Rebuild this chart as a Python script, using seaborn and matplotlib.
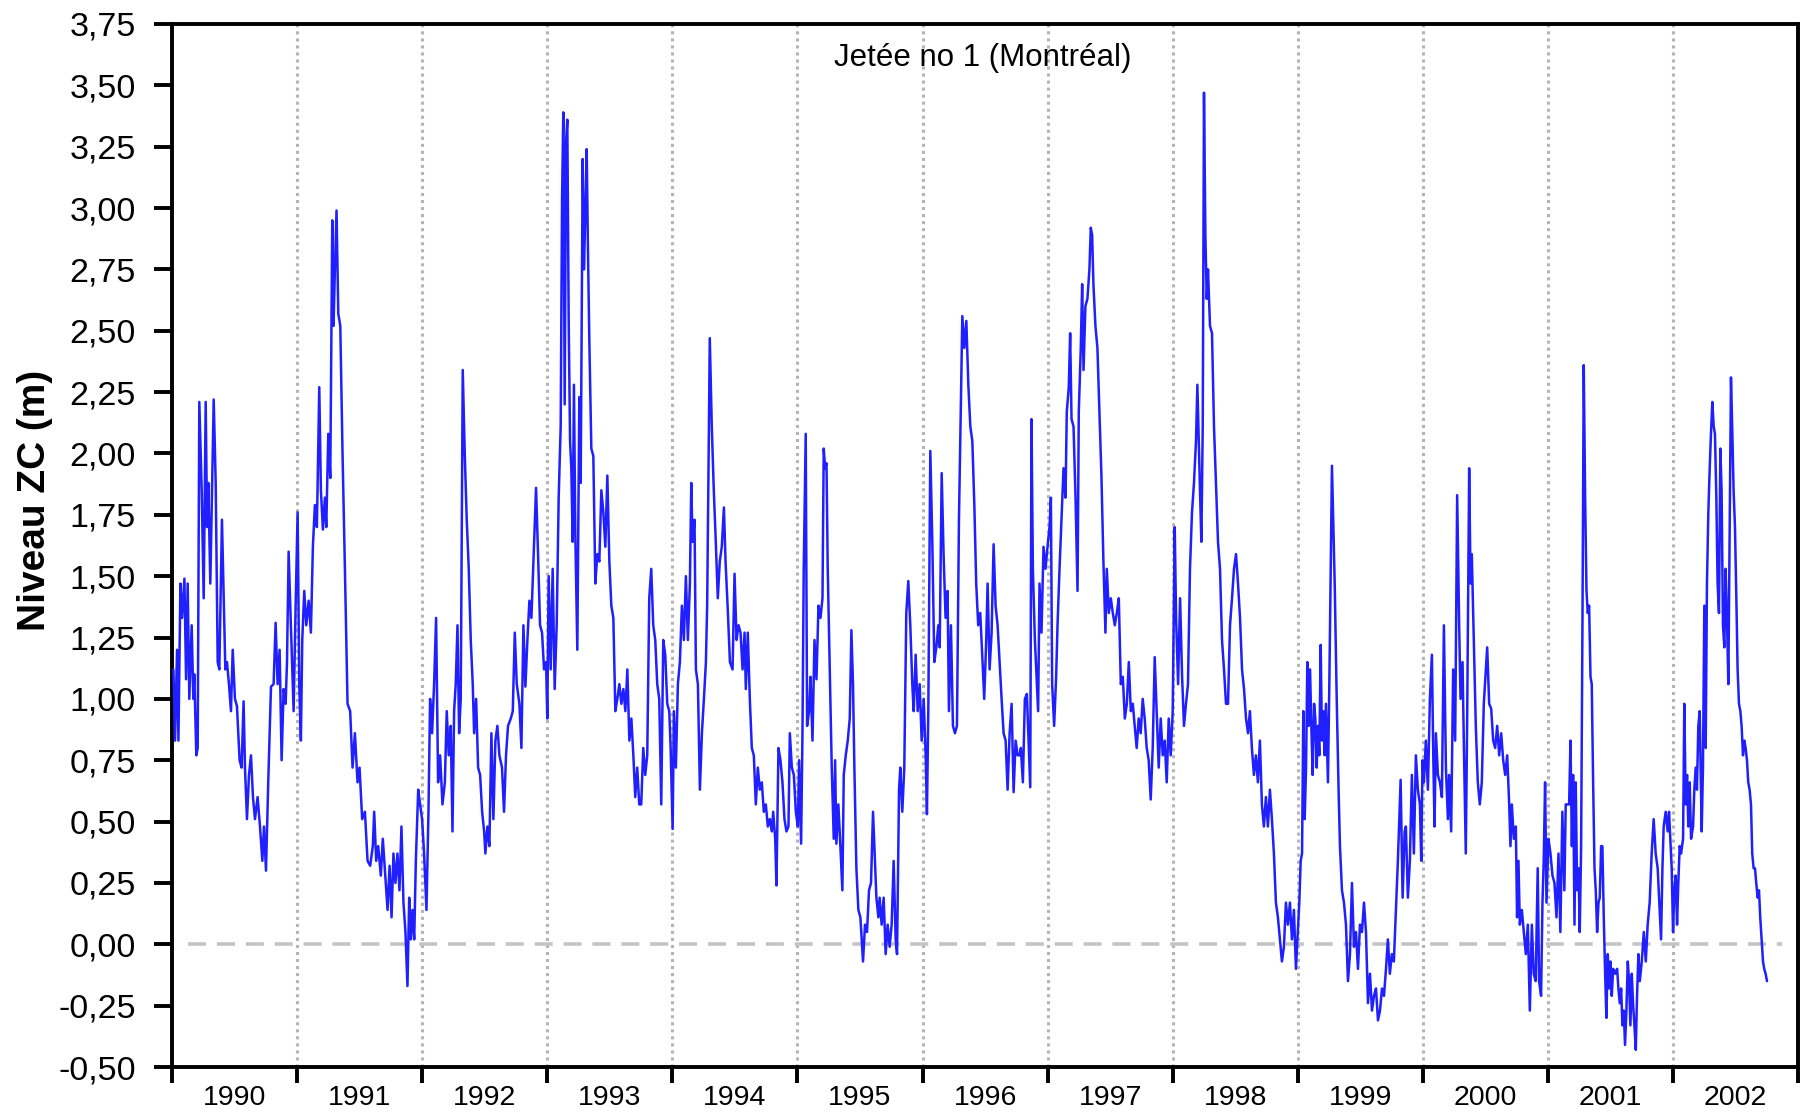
import numpy as np
import pandas as pd
import matplotlib
matplotlib.use("Agg")
import matplotlib.pyplot as plt
from matplotlib.ticker import FixedLocator, FuncFormatter, NullFormatter
import seaborn as sns

# ---- data: (fraction of year, water level in m) ----
lvl_1990 = [(0.011,1.12),(0.024,0.83),(0.040,1.20),(0.051,0.83),(0.067,1.47),(0.080,1.33),(0.099,1.49),(0.112,1.08),(0.125,1.47),(0.138,1.00),(0.157,1.30),(0.170,1.00),(0.178,1.10),(0.194,0.77),(0.205,0.80),(0.218,2.21),(0.237,1.85),(0.253,1.41),(0.269,2.21),(0.280,1.70),(0.290,1.88),(0.306,1.47),(0.319,1.82),(0.333,2.22),(0.349,1.88),(0.365,1.15),(0.378,1.12),(0.399,1.73),(0.413,1.41),(0.426,1.12),(0.439,1.15),(0.455,1.06),(0.471,0.95),(0.485,1.20),(0.503,1.00),(0.519,0.97),(0.540,0.75),(0.556,0.72),(0.572,0.99),(0.583,0.72),(0.599,0.51),(0.615,0.69),(0.631,0.77),(0.647,0.60),(0.663,0.51),(0.684,0.60),(0.703,0.48),(0.722,0.34),(0.735,0.48),(0.751,0.30),(0.769,0.66),(0.791,1.05),(0.812,1.06),(0.828,1.31),(0.844,1.06),(0.860,1.20),(0.876,0.75),(0.892,1.04),(0.908,0.98),(0.919,1.15),(0.932,1.60),(0.950,1.30),(0.972,0.95),(0.988,1.38)]
lvl_1991 = [(0.004,1.76),(0.017,1.06),(0.030,0.83),(0.041,1.24),(0.057,1.44),(0.073,1.30),(0.092,1.40),(0.110,1.27),(0.126,1.62),(0.142,1.79),(0.158,1.70),(0.177,2.27),(0.190,1.85),(0.206,1.69),(0.222,1.82),(0.233,1.70),(0.249,2.08),(0.265,1.90),(0.281,2.95),(0.291,2.52),(0.302,2.75),(0.315,2.99),(0.329,2.57),(0.345,2.52),(0.363,2.00),(0.382,1.53),(0.403,0.98),(0.424,0.95),(0.443,0.72),(0.462,0.86),(0.483,0.66),(0.499,0.72),(0.520,0.51),(0.542,0.54),(0.563,0.34),(0.584,0.32),(0.605,0.40),(0.616,0.54),(0.632,0.34),(0.648,0.40),(0.669,0.28),(0.685,0.43),(0.701,0.31),(0.723,0.14),(0.739,0.32),(0.755,0.11),(0.770,0.37),(0.786,0.25),(0.802,0.37),(0.818,0.22),(0.834,0.48),(0.850,0.17),(0.866,0.05),(0.882,-0.17),(0.896,0.19),(0.909,0.02),(0.922,0.14),(0.936,0.02),(0.949,0.34),(0.968,0.63),(0.983,0.57),(0.999,0.51)]
lvl_1992 = [(0.015,0.37),(0.034,0.14),(0.050,0.54),(0.063,1.00),(0.079,0.86),(0.095,1.06),(0.111,1.33),(0.127,0.66),(0.143,0.77),(0.162,0.57),(0.181,0.66),(0.196,0.95),(0.212,0.77),(0.228,0.89),(0.242,0.46),(0.255,0.95),(0.268,1.06),(0.282,1.30),(0.295,0.86),(0.308,1.00),(0.324,2.34),(0.340,2.00),(0.356,1.73),(0.372,1.53),(0.388,1.24),(0.404,1.06),(0.415,0.86),(0.431,1.00),(0.447,0.72),(0.463,0.69),(0.479,0.54),(0.495,0.46),(0.505,0.37),(0.521,0.48),(0.537,0.40),(0.553,0.86),(0.569,0.51),(0.585,0.83),(0.601,0.89),(0.617,0.77),(0.638,0.72),(0.654,0.54),(0.670,0.77),(0.686,0.89),(0.708,0.92),(0.724,0.95),(0.740,1.27),(0.756,1.06),(0.777,0.98),(0.793,0.80),(0.809,1.30),(0.825,1.05),(0.841,1.24),(0.857,1.40),(0.873,1.33),(0.889,1.56),(0.910,1.86),(0.926,1.59),(0.942,1.30),(0.958,1.27),(0.974,1.12),(0.990,1.15)]
lvl_1993 = [(0.000,0.92),(0.011,1.50),(0.027,1.12),(0.043,1.53),(0.059,1.04),(0.075,1.30),(0.091,1.82),(0.107,2.11),(0.118,3.04),(0.128,3.39),(0.139,2.20),(0.150,3.27),(0.160,3.36),(0.171,2.54),(0.182,2.05),(0.192,1.94),(0.203,1.64),(0.213,2.28),(0.224,1.67),(0.240,1.20),(0.256,2.23),(0.267,1.88),(0.283,3.20),(0.293,2.75),(0.304,2.98),(0.315,3.24),(0.325,2.83),(0.336,2.46),(0.352,2.02),(0.368,1.99),(0.384,1.47),(0.400,1.59),(0.416,1.56),(0.432,1.85),(0.448,1.76),(0.464,1.62),(0.480,1.91),(0.496,1.56),(0.512,1.38),(0.528,1.33),(0.544,0.95),(0.560,1.00),(0.576,1.06),(0.592,0.98),(0.608,1.04),(0.624,0.95),(0.640,1.12),(0.656,0.83),(0.672,0.92),(0.688,0.77),(0.703,0.60),(0.719,0.72),(0.735,0.57),(0.751,0.57),(0.767,0.80),(0.783,0.69),(0.799,0.77),(0.815,1.41),(0.831,1.53),(0.847,1.30),(0.863,1.24),(0.879,1.06),(0.895,1.00),(0.911,0.57),(0.927,1.24),(0.943,1.18),(0.959,0.98),(0.975,0.95),(0.986,0.80)]
lvl_1994 = [(0.002,0.47),(0.012,0.95),(0.028,0.72),(0.044,1.06),(0.060,1.15),(0.076,1.38),(0.092,1.24),(0.108,1.50),(0.124,1.24),(0.140,1.47),(0.151,1.88),(0.161,1.64),(0.177,1.73),(0.188,1.12),(0.204,1.06),(0.220,0.63),(0.236,0.86),(0.252,1.00),(0.268,1.15),(0.278,1.38),(0.289,1.96),(0.299,2.47),(0.315,2.11),(0.331,1.85),(0.347,1.64),(0.363,1.41),(0.379,1.56),(0.395,1.62),(0.412,1.78),(0.425,1.56),(0.444,1.35),(0.460,1.15),(0.481,1.12),(0.497,1.51),(0.513,1.24),(0.529,1.30),(0.545,1.27),(0.561,1.12),(0.577,1.27),(0.587,1.04),(0.603,1.27),(0.619,1.00),(0.635,0.80),(0.651,0.77),(0.667,0.57),(0.683,0.72),(0.699,0.63),(0.715,0.66),(0.731,0.54),(0.747,0.57),(0.763,0.48),(0.779,0.51),(0.795,0.46),(0.806,0.54),(0.822,0.43),(0.832,0.24),(0.848,0.80),(0.864,0.75),(0.880,0.66),(0.896,0.51),(0.912,0.46),(0.928,0.48),(0.939,0.86),(0.955,0.72),(0.971,0.69),(0.987,0.54)]
lvl_1995 = [(0.003,0.48),(0.013,0.75),(0.029,0.41),(0.040,0.86),(0.050,1.53),(0.066,2.08),(0.077,0.89),(0.093,0.95),(0.104,1.09),(0.120,0.83),(0.136,1.24),(0.152,1.08),(0.168,1.38),(0.184,1.33),(0.200,1.41),(0.210,2.02),(0.221,1.94),(0.232,1.96),(0.242,1.53),(0.258,1.12),(0.274,0.72),(0.290,0.43),(0.301,0.75),(0.311,0.41),(0.327,0.57),(0.343,0.40),(0.359,0.22),(0.370,0.69),(0.386,0.77),(0.402,0.83),(0.418,0.92),(0.431,1.28),(0.444,1.06),(0.455,0.72),(0.471,0.31),(0.487,0.14),(0.503,0.11),(0.524,-0.07),(0.540,0.08),(0.556,0.05),(0.572,0.22),(0.588,0.25),(0.604,0.54),(0.615,0.40),(0.631,0.19),(0.647,0.11),(0.657,0.19),(0.673,0.08),(0.689,0.19),(0.705,-0.04),(0.721,0.08),(0.737,-0.01),(0.753,0.08),(0.769,0.34),(0.785,0.02),(0.796,-0.04),(0.812,0.63),(0.822,0.72),(0.838,0.54),(0.854,0.72),(0.870,1.35),(0.886,1.48),(0.902,1.30),(0.918,1.06),(0.929,0.95),(0.945,1.18),(0.961,0.95),(0.977,1.06),(0.993,0.83)]
lvl_1996 = [(0.009,1.00),(0.025,0.77),(0.035,0.53),(0.046,0.95),(0.062,2.01),(0.078,1.64),(0.094,1.15),(0.110,1.21),(0.126,1.30),(0.137,1.21),(0.153,1.92),(0.168,1.59),(0.184,1.33),(0.200,1.44),(0.211,0.95),(0.227,1.30),(0.243,0.89),(0.259,0.86),(0.275,0.89),(0.291,1.73),(0.307,2.23),(0.318,2.56),(0.334,2.43),(0.350,2.54),(0.366,2.28),(0.382,2.11),(0.398,2.05),(0.414,1.79),(0.429,1.47),(0.445,1.30),(0.461,1.35),(0.477,1.18),(0.493,1.00),(0.509,1.24),(0.520,1.47),(0.536,1.12),(0.552,1.27),(0.568,1.63),(0.584,1.38),(0.600,1.30),(0.616,1.15),(0.632,1.00),(0.648,0.86),(0.664,0.83),(0.680,0.63),(0.696,0.86),(0.712,0.98),(0.728,0.62),(0.744,0.83),(0.760,0.77),(0.776,0.77),(0.786,0.80),(0.802,0.66),(0.818,1.00),(0.834,1.02),(0.850,0.80),(0.861,0.64),(0.871,2.14),(0.882,1.53),(0.898,1.24),(0.914,1.06),(0.924,0.95),(0.935,1.47),(0.951,1.27),(0.967,1.62),(0.983,1.53),(0.999,1.62)]
lvl_1997 = [(0.015,1.70),(0.026,1.82),(0.036,1.06),(0.052,0.89),(0.068,1.09),(0.079,1.30),(0.095,1.53),(0.111,1.73),(0.127,1.94),(0.143,1.82),(0.153,2.17),(0.169,2.27),(0.180,2.49),(0.191,2.14),(0.207,2.11),(0.223,1.82),(0.239,1.44),(0.249,2.17),(0.265,2.43),(0.276,2.69),(0.287,2.34),(0.302,2.60),(0.318,2.63),(0.334,2.75),(0.345,2.92),(0.356,2.89),(0.366,2.69),(0.382,2.52),(0.398,2.43),(0.414,2.17),(0.430,1.91),(0.446,1.56),(0.462,1.27),(0.473,1.53),(0.489,1.35),(0.505,1.41),(0.521,1.35),(0.537,1.30),(0.553,1.35),(0.569,1.41),(0.585,1.06),(0.601,1.09),(0.617,0.92),(0.633,0.98),(0.649,1.15),(0.665,0.95),(0.681,0.98),(0.696,0.89),(0.712,0.80),(0.728,0.92),(0.744,0.86),(0.760,1.00),(0.776,0.92),(0.792,0.80),(0.808,0.75),(0.824,0.59),(0.840,0.80),(0.856,1.17),(0.872,0.95),(0.888,0.72),(0.904,0.92),(0.920,0.77),(0.936,0.83),(0.952,0.66),(0.968,0.92),(0.984,0.77)]
lvl_1998 = [(0.000,0.95),(0.016,1.70),(0.027,1.33),(0.043,1.06),(0.059,1.41),(0.075,1.09),(0.090,0.89),(0.106,0.98),(0.122,1.06),(0.138,1.53),(0.154,1.76),(0.170,1.88),(0.186,2.05),(0.197,2.28),(0.208,2.05),(0.218,1.85),(0.229,1.64),(0.240,2.11),(0.250,3.47),(0.261,2.89),(0.272,2.63),(0.282,2.75),(0.298,2.52),(0.314,2.49),(0.330,2.11),(0.346,1.88),(0.362,1.64),(0.378,1.53),(0.394,1.24),(0.410,1.12),(0.426,0.98),(0.442,0.98),(0.458,1.30),(0.474,1.41),(0.490,1.53),(0.506,1.59),(0.522,1.47),(0.538,1.33),(0.554,1.12),(0.570,1.04),(0.586,0.92),(0.602,0.86),(0.617,0.95),(0.633,0.80),(0.649,0.69),(0.665,0.77),(0.681,0.66),(0.697,0.83),(0.713,0.57),(0.729,0.48),(0.745,0.60),(0.761,0.48),(0.777,0.63),(0.793,0.51),(0.809,0.37),(0.825,0.17),(0.841,0.11),(0.857,0.02),(0.873,-0.07),(0.889,-0.01),(0.905,0.17),(0.921,0.08),(0.937,0.17),(0.953,0.02),(0.969,0.14),(0.985,-0.10)]
lvl_1999 = [(0.012,0.17),(0.023,0.34),(0.034,0.37),(0.044,0.95),(0.055,0.51),(0.066,0.72),(0.076,1.15),(0.087,0.89),(0.098,1.12),(0.108,0.89),(0.119,0.69),(0.130,0.98),(0.140,0.92),(0.151,0.72),(0.161,0.89),(0.172,0.77),(0.183,1.22),(0.193,0.83),(0.204,0.95),(0.215,0.77),(0.225,0.98),(0.241,0.66),(0.252,1.06),(0.263,1.53),(0.273,1.95),(0.284,1.70),(0.295,1.47),(0.311,1.00),(0.326,0.63),(0.337,0.40),(0.353,0.22),(0.369,0.17),(0.385,0.08),(0.401,-0.15),(0.417,-0.04),(0.433,0.25),(0.449,-0.01),(0.465,0.05),(0.481,-0.10),(0.497,0.08),(0.513,0.05),(0.529,0.17),(0.545,0.05),(0.561,-0.24),(0.577,-0.12),(0.593,-0.27),(0.609,-0.21),(0.625,-0.18),(0.641,-0.31),(0.657,-0.27),(0.673,-0.18),(0.689,-0.21),(0.705,-0.10),(0.720,0.02),(0.736,-0.12),(0.752,-0.04),(0.768,-0.07),(0.784,0.14),(0.800,0.34),(0.811,0.51),(0.822,0.67),(0.838,0.19),(0.854,0.46),(0.864,0.48),(0.880,0.19),(0.896,0.34),(0.912,0.69),(0.928,0.37),(0.944,0.77),(0.960,0.63),(0.976,0.57),(0.987,0.34),(0.997,0.75)]
lvl_2000 = [(0.008,0.66),(0.024,0.83),(0.040,0.63),(0.056,1.00),(0.072,1.18),(0.083,0.77),(0.093,0.48),(0.104,0.86),(0.120,0.69),(0.136,0.66),(0.152,0.60),(0.168,1.30),(0.184,0.72),(0.200,0.51),(0.210,0.69),(0.226,0.46),(0.242,1.12),(0.258,0.83),(0.274,1.83),(0.290,1.30),(0.301,1.00),(0.317,1.15),(0.327,0.83),(0.343,0.37),(0.354,0.92),(0.370,1.94),(0.381,1.47),(0.391,1.59),(0.407,1.24),(0.423,0.89),(0.439,0.66),(0.455,0.57),(0.471,0.66),(0.487,0.98),(0.503,1.12),(0.514,1.21),(0.530,0.98),(0.546,0.96),(0.562,0.83),(0.578,0.80),(0.594,0.89),(0.610,0.77),(0.626,0.86),(0.642,0.75),(0.658,0.69),(0.674,0.77),(0.690,0.57),(0.700,0.40),(0.711,0.57),(0.727,0.43),(0.743,0.48),(0.753,0.11),(0.764,0.34),(0.775,0.08),(0.791,0.14),(0.807,0.05),(0.823,-0.04),(0.839,0.08),(0.855,-0.27),(0.871,0.08),(0.886,-0.12),(0.902,-0.15),(0.918,0.31),(0.929,-0.15),(0.945,-0.21),(0.956,0.17),(0.966,0.34),(0.977,0.66),(0.988,0.17)]
lvl_2001 = [(0.004,0.43),(0.020,0.37),(0.036,0.28),(0.052,0.25),(0.068,0.11),(0.084,0.37),(0.099,0.05),(0.115,0.54),(0.131,0.22),(0.142,0.57),(0.158,0.57),(0.169,0.57),(0.180,0.83),(0.191,0.40),(0.201,0.69),(0.212,0.08),(0.222,0.66),(0.233,0.22),(0.244,0.31),(0.254,0.05),(0.265,0.40),(0.276,1.33),(0.286,2.36),(0.297,1.82),(0.308,1.44),(0.318,1.35),(0.329,1.38),(0.340,1.09),(0.350,1.06),(0.361,0.66),(0.372,0.31),(0.382,0.22),(0.393,0.05),(0.404,0.17),(0.414,0.19),(0.425,0.40),(0.435,0.40),(0.446,0.11),(0.457,-0.12),(0.467,-0.30),(0.478,-0.04),(0.489,-0.18),(0.499,-0.07),(0.510,-0.21),(0.521,-0.10),(0.537,-0.12),(0.553,-0.10),(0.563,-0.18),(0.574,-0.24),(0.585,-0.18),(0.595,-0.33),(0.606,-0.27),(0.616,-0.41),(0.627,-0.27),(0.638,-0.07),(0.648,-0.15),(0.659,-0.33),(0.670,-0.12),(0.680,-0.24),(0.691,-0.33),(0.702,-0.43),(0.712,-0.21),(0.723,-0.04),(0.734,-0.15),(0.750,-0.07),(0.766,0.05),(0.782,-0.07),(0.797,0.08),(0.813,0.17),(0.829,0.37),(0.845,0.51),(0.861,0.37),(0.877,0.31),(0.893,0.14),(0.904,0.02),(0.915,0.31),(0.925,0.48),(0.941,0.54),(0.957,0.46),(0.968,0.54),(0.978,0.43),(0.989,0.31)]
lvl_2002 = [(0.000,0.05),(0.010,0.22),(0.021,0.28),(0.032,0.08),(0.042,0.25),(0.053,0.40),(0.064,0.37),(0.080,0.43),(0.090,0.98),(0.101,0.57),(0.112,0.69),(0.122,0.48),(0.133,0.66),(0.144,0.43),(0.160,0.48),(0.170,0.63),(0.181,0.72),(0.191,0.63),(0.202,0.89),(0.213,0.95),(0.229,0.46),(0.239,0.72),(0.250,1.38),(0.261,0.80),(0.271,1.47),(0.282,1.76),(0.293,1.94),(0.303,2.08),(0.314,2.21),(0.325,2.11),(0.335,2.08),(0.346,1.82),(0.356,1.47),(0.367,1.35),(0.378,2.02),(0.388,1.85),(0.399,1.30),(0.410,1.21),(0.420,1.53),(0.431,1.33),(0.442,1.06),(0.452,1.64),(0.463,2.31),(0.474,2.08),(0.484,1.85),(0.495,1.70),(0.506,1.41),(0.516,1.12),(0.527,0.98),(0.538,0.95),(0.548,0.89),(0.559,0.77),(0.570,0.83),(0.580,0.80),(0.591,0.75),(0.601,0.66),(0.612,0.63),(0.623,0.57),(0.633,0.37),(0.644,0.31),(0.655,0.31),(0.665,0.25),(0.676,0.19),(0.687,0.22),(0.697,0.11),(0.708,0.02),(0.719,-0.07),(0.729,-0.10),(0.740,-0.12),(0.751,-0.15)]

years = [1990, 1991, 1992, 1993, 1994, 1995, 1996, 1997, 1998, 1999, 2000, 2001, 2002]
year_data = [lvl_1990, lvl_1991, lvl_1992, lvl_1993, lvl_1994, lvl_1995, lvl_1996,
             lvl_1997, lvl_1998, lvl_1999, lvl_2000, lvl_2001, lvl_2002]
y_ticks = [-0.50, -0.25, 0.00, 0.25, 0.50, 0.75, 1.00, 1.25, 1.50, 1.75, 2.00,
           2.25, 2.50, 2.75, 3.00, 3.25, 3.50, 3.75]
title_text = "Jetée no 1 (Montréal)"
y_label = "Niveau ZC (m)"

rows = []
for yr, pts in zip(years, year_data):
    for frac, val in pts:
        rows.append({"t": yr + frac, "niveau": val})
df = pd.DataFrame(rows)

# ---- style ----
sns.set_style("ticks")
plt.rcParams["font.family"] = ["Liberation Sans", "DejaVu Sans"]

fig = plt.figure(figsize=(18.11, 11.16), dpi=100)
ax = fig.add_axes([0.0950, 0.0439, 0.8979, 0.9346])

# year separators (dotted) and zero reference (dashed)
for yr in years[1:]:
    ax.axvline(yr, color="#b4b4b4", lw=2.2, ls=(0, (1.0, 1.3)), zorder=1)
ax.axhline(0.0, xmin=0.01, xmax=0.99, color="#c4c4c4", lw=2.6,
           ls=(0, (5.0, 3.0)), zorder=1)

sns.lineplot(data=df, x="t", y="niveau", ax=ax, color="#1f1fff",
             linewidth=1.8, estimator=None, sort=False, zorder=3)

ax.set_xlim(years[0], years[-1] + 1)
ax.set_ylim(y_ticks[0], y_ticks[-1])

# y axis
ax.yaxis.set_major_locator(FixedLocator(y_ticks))
ax.yaxis.set_major_formatter(FuncFormatter(lambda v, p: f"{v:.2f}".replace(".", ",")))
ax.tick_params(axis="y", which="major", direction="out", length=13, width=2.8,
               labelsize=24.5, pad=13, colors="black")

# x axis: ticks at year boundaries, labels centred in each year
ax.xaxis.set_major_locator(FixedLocator([y for y in years] + [years[-1] + 1]))
ax.xaxis.set_major_formatter(NullFormatter())
ax.xaxis.set_minor_locator(FixedLocator([y + 0.5 for y in years]))
ax.xaxis.set_minor_formatter(FuncFormatter(lambda v, p: f"{int(v)}"))
ax.tick_params(axis="x", which="major", direction="out", length=11.5, width=2.8,
               colors="black")
ax.tick_params(axis="x", which="minor", length=0, labelsize=20.5, pad=13,
               labelcolor="black")

for side in ["left", "bottom", "top", "right"]:
    ax.spines[side].set_color("black")
    ax.spines[side].set_linewidth(2.8)

ax.set_xlabel("")
ax.set_ylabel(y_label, fontsize=28, fontweight="bold", color="black")
ax.yaxis.set_label_coords(-0.0732, 0.543)

ax.text(0.4985, 0.967, title_text, transform=ax.transAxes, ha="center",
        va="center", fontsize=22.5, color="black")

fig.savefig("out.png", dpi=100)
